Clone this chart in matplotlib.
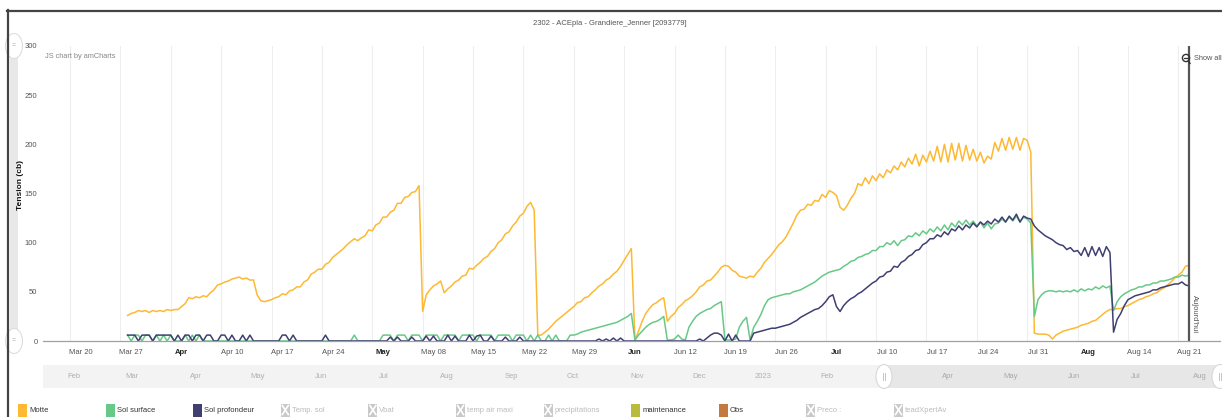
import matplotlib
matplotlib.use("Agg")
import pandas as pd
import matplotlib.pyplot as plt
from matplotlib.patches import Rectangle, Ellipse, Circle
from matplotlib.transforms import ScaledTranslation

plt.rcParams['font.family'] = ['Liberation Sans Narrow', 'Liberation Sans', 'DejaVu Sans']

title = "2302 - ACEpla - Grandiere_Jenner [2093779]"
start = "2023-03-28 00:00"          # first reading, then one every 12 h
today = pd.Timestamp("2023-08-22 12:00")

# Motte (cb), 12-hourly, one row = 7 days
motte = [
    26, 28, 29, 31, 30, 31, 29, 31, 30, 31, 30, 32, 31, 32,
    32, 35, 38, 44, 43, 45, 44, 46, 45, 49, 52, 57, 58, 60,
    61, 63, 64, 65, 63, 64, 62, 62, 47, 41, 40, 41, 42, 44,
    45, 48, 47, 51, 52, 55, 55, 60, 62, 68, 70, 73, 73, 78,
    80, 85, 88, 91, 94, 98, 101, 104, 102, 105, 107, 113, 112, 118,
    120, 126, 126, 131, 133, 140, 140, 146, 147, 151, 152, 158, 30, 47,
    52, 56, 58, 61, 49, 53, 56, 60, 62, 66, 67, 74, 73, 77,
    80, 84, 86, 91, 94, 100, 103, 109, 111, 117, 121, 127, 130, 137,
    141, 133, 6, 6, 9, 12, 16, 20, 23, 26, 29, 32, 35, 39,
    40, 44, 45, 49, 52, 56, 58, 62, 64, 68, 71, 76, 82, 88,
    94, 1, 10, 20, 28, 33, 37, 39, 42, 44, 20, 25, 28, 34,
    37, 41, 43, 46, 50, 55, 57, 61, 62, 66, 70, 75, 77, 76,
    72, 70, 66, 65, 64, 66, 65, 70, 74, 80, 84, 88, 93, 98,
    101, 106, 113, 120, 128, 133, 134, 139, 138, 143, 142, 149, 146, 153,
    151, 148, 136, 133, 138, 145, 150, 160, 158, 166, 160, 168, 163, 170,
    166, 174, 171, 178, 174, 182, 177, 186, 180, 190, 178, 189, 182, 193,
    183, 198, 182, 200, 182, 201, 184, 201, 183, 199, 184, 195, 183, 192,
    181, 188, 185, 202, 193, 206, 194, 207, 195, 207, 194, 206, 204, 192,
    8, 7, 7, 7, 6, 2, 6, 8, 10, 11, 12, 13, 14, 16,
    17, 18, 20, 21, 24, 27, 30, 32, 32, 33, 33, 35, 36, 38,
    40, 42, 43, 45, 46, 48, 49, 52, 54, 57, 60, 64, 67, 70,
    76, 77,
]

sol_surface = [
    6, 0, 6, 6, 0, 6, 6, 0, 6, 0, 6, 0, 6, 0,
    0, 0, 6, 0, 6, 0, 6, 0, 0, 0, 0, 0, 0, 0,
    0, 0, 0, 0, 0, 0, 0, 0, 0, 0, 0, 0, 0, 0,
    0, 0, 0, 0, 0, 0, 0, 0, 0, 0, 0, 0, 0, 0,
    0, 0, 0, 0, 0, 0, 0, 6, 0, 0, 0, 0, 0, 0,
    0, 6, 6, 6, 0, 6, 6, 6, 0, 6, 6, 6, 0, 6,
    6, 6, 6, 0, 6, 6, 6, 6, 0, 6, 6, 6, 6, 0,
    6, 6, 6, 6, 0, 6, 6, 6, 6, 0, 6, 6, 6, 0,
    6, 0, 6, 0, 0, 6, 0, 6, 0, 0, 0, 6, 6, 7,
    9, 10, 11, 12, 13, 14, 15, 16, 17, 18, 19, 21, 23, 25,
    28, 1, 6, 10, 14, 17, 19, 20, 22, 25, 1, 1, 2, 6,
    2, 1, 14, 20, 25, 28, 30, 32, 33, 36, 38, 40, 1, 1,
    1, 2, 14, 20, 24, 1, 14, 20, 27, 36, 42, 44, 45, 46,
    47, 48, 48, 50, 51, 52, 54, 56, 58, 60, 63, 66, 68, 70,
    71, 72, 73, 76, 78, 81, 82, 85, 86, 88, 89, 92, 92, 96,
    96, 100, 98, 102, 97, 102, 103, 107, 106, 110, 107, 112, 109, 114,
    111, 116, 112, 118, 113, 120, 116, 122, 118, 123, 118, 122, 117, 121,
    115, 120, 114, 119, 120, 124, 121, 126, 122, 127, 121, 126, 124, 120,
    25, 42, 47, 50, 51, 51, 50, 51, 50, 51, 50, 52, 50, 53,
    51, 53, 52, 55, 53, 56, 54, 56, 31, 40, 45, 48, 50, 52,
    53, 55, 55, 57, 57, 59, 59, 61, 61, 62, 63, 65, 65, 67,
    66, 67,
]

sol_profondeur = [
    6, 6, 6, 0, 6, 6, 6, 0, 6, 6, 6, 6, 6, 0,
    6, 0, 6, 6, 0, 6, 6, 0, 6, 6, 0, 0, 6, 6,
    0, 6, 0, 0, 6, 0, 6, 0, 0, 0, 0, 0, 0, 0,
    0, 6, 6, 0, 6, 0, 0, 0, 0, 0, 0, 0, 0, 6,
    0, 0, 0, 0, 0, 0, 0, 0, 0, 0, 0, 0, 0, 0,
    0, 0, 0, 4, 0, 4, 0, 0, 0, 4, 0, 0, 0, 5,
    0, 5, 0, 0, 0, 6, 0, 5, 0, 0, 0, 6, 0, 5,
    6, 0, 0, 5, 0, 0, 0, 4, 0, 0, 0, 4, 0, 0,
    0, 0, 0, 0, 0, 0, 0, 0, 0, 0, 0, 0, 0, 0,
    0, 0, 0, 0, 0, 2, 0, 2, 0, 3, 0, 3, 0, 0,
    0, 0, 0, 0, 0, 0, 0, 0, 0, 0, 0, 0, 0, 0,
    0, 0, 0, 0, 0, 2, 0, 3, 6, 8, 8, 6, 0, 7,
    0, 6, 0, 0, 0, 0, 8, 9, 10, 11, 12, 13, 13, 14,
    15, 16, 17, 19, 21, 24, 26, 28, 30, 32, 33, 36, 40, 45,
    47, 35, 30, 36, 40, 43, 45, 48, 50, 53, 56, 59, 61, 65,
    66, 70, 71, 76, 75, 80, 82, 86, 88, 92, 93, 98, 100, 104,
    104, 108, 106, 111, 108, 114, 112, 117, 113, 118, 115, 120, 116, 121,
    118, 122, 119, 124, 121, 126, 121, 127, 123, 129, 121, 127, 125, 124,
    117, 113, 110, 107, 105, 103, 100, 98, 97, 93, 95, 91, 92, 87,
    95, 86, 96, 87, 95, 86, 96, 90, 9, 22, 28, 36, 42, 44,
    46, 47, 48, 49, 50, 52, 52, 54, 55, 56, 57, 58, 58, 60,
    57, 56,
]

series = [("Motte", motte, "#FDB933"),
          ("Sol surface", sol_surface, "#67C987"),
          ("Sol profondeur", sol_profondeur, "#3F3F72")]

legend_names = ["Motte", "Sol surface", "Sol profondeur", "Temp. sol", "Vbat",
                "temp air maxi", "precipitations", "maintenance", "Obs",
                "Preco :", "teadXpertAv"]
legend_colors = ["#FDB933", "#67C987", "#3F3F72", None, None, None, None,
                 "#B8BB3B", "#C27A3F", None, None]

view_start = pd.Timestamp("2023-03-16 06:00")
view_end = pd.Timestamp("2023-08-26 19:00")
scroll_start = pd.Timestamp("2022-01-16 23:00")
scroll_end = pd.Timestamp("2023-08-10 17:00")
scroll_sel = pd.Timestamp("2023-03-01")

W, H = 1222, 417
fig = plt.figure(figsize=(W / 100, H / 100), dpi=100)


def box(x0, y0, x1, y1):
    return [x0 / W, 1 - y1 / H, (x1 - x0) / W, (y1 - y0) / H]


# main chart
ax = fig.add_axes(box(43, 46, 1220, 341))
for name, vals, col in series:
    t = pd.date_range(start, periods=len(vals), freq="12h")
    ax.plot(t, vals, color=col, lw=1.1, solid_joinstyle="round")

ax.set_xlim(view_start, view_end)
ax.set_ylim(0, 300)
ax.set_yticks(range(0, 301, 50))
for s in ["top", "right", "left"]:
    ax.spines[s].set_visible(False)
ax.spines["bottom"].set_color("#a0a0a0")
ax.spines["bottom"].set_linewidth(0.9)
ax.tick_params(axis="y", length=0, pad=4, labelsize=5.5, labelcolor="#555555")

mondays = pd.date_range("2023-03-20", "2023-08-21", freq="7D")
ax.set_xticks(mondays)
ax.set_xticklabels([d.strftime("%b") if d.day <= 7 else d.strftime("%b %d") for d in mondays])
ax.tick_params(axis="x", length=0, pad=6, labelsize=5.5, labelcolor="#555555")
shift = ScaledTranslation(11 / 100, 0, fig.dpi_scale_trans)
for d, lab in zip(mondays, ax.get_xticklabels()):
    lab.set_transform(lab.get_transform() + shift)
    if d.day <= 7:
        lab.set_fontweight("bold")
        lab.set_color("#222222")
ax.grid(axis="x", color="#eeeeee", lw=0.8)
ax.set_axisbelow(True)

ax.axvline(today, color="#555555", lw=1.6)
ax.text(today, 8, "Aujourd'hui", rotation=-90, ha="left", va="bottom",
        fontsize=5.5, color="#555555",
        transform=ax.transData + ScaledTranslation(2 / 100, 0, fig.dpi_scale_trans))

# bottom scrollbar
sc = fig.add_axes(box(43, 365, 1220, 388))
sc.set_xlim(scroll_start, scroll_end)
sc.set_ylim(0, 1)
sc.axis("off")
sc.axvspan(scroll_start, scroll_end, color="#f3f3f3", lw=0)
sc.axvspan(scroll_sel, scroll_end, color="#e7e7e7", lw=0)
months = pd.date_range("2022-02-01", "2023-08-01", freq="MS")
for m in months:
    if abs((m - scroll_sel).days) < 8:
        continue  # hidden under the scrollbar grip
    lab = "2023" if m.month == 1 else m.strftime("%b")
    sc.text(m, 0.5, lab, ha="center", va="center", fontsize=5.5,
            color="#b0b0b0" if m < scroll_sel else "#a8a8a8")

# overlay in pixel units for decorations
ov = fig.add_axes([0, 0, 1, 1])
ov.set_xlim(0, W)
ov.set_ylim(H, 0)
ov.axis("off")
ov.patch.set_alpha(0)

ov.plot([7, W], [10.5, 10.5], color="#444444", lw=1.6)
ov.plot([7.5, 7.5], [10, H], color="#444444", lw=1.6)

ov.text(610, 23, title, ha="center", va="center", fontsize=5.5, color="#555555")
ov.text(45, 56, "JS chart by amCharts", ha="left", va="center", fontsize=5.3, color="#888888")
ov.text(20, 185, "Tension (cb)", rotation=90, ha="center", va="center",
        fontsize=6, fontweight="bold", color="#111111")

# left scrollbar
ov.add_patch(Rectangle((10, 46), 8, 295, fc="#e8e8e8", ec="none"))
for yy in (46, 341):
    ov.add_patch(Ellipse((14, yy), 17, 25, fc="white", ec="#dddddd", lw=0.8))
    ov.text(14, yy, "=", ha="center", va="center", fontsize=5, color="#aaaaaa")

# scrollbar grips
for xx in (884, 1220):
    ov.add_patch(Ellipse((xx, 376.5), 16, 24, fc="white", ec="#d8d8d8", lw=0.8))
    ov.plot([xx - 1, xx - 1], [373, 380], color="#c4c4c4", lw=0.7)
    ov.plot([xx + 1, xx + 1], [373, 380], color="#c4c4c4", lw=0.7)

# show all
ov.add_patch(Circle((1186, 58), 3.6, fc="none", ec="#333333", lw=1))
ov.plot([1184, 1188], [58, 58], color="#333333", lw=0.9)
ov.plot([1188.5, 1190], [61, 63.5], color="#333333", lw=1)
ov.text(1194, 58, "Show all", ha="left", va="center", fontsize=5.3, color="#555555")

# legend
for i, (name, col) in enumerate(zip(legend_names, legend_colors)):
    x0 = 18 + i * 87.6
    if col is None:
        ov.add_patch(Rectangle((x0, 404), 9, 13, fc="#c9c9c9", ec="none"))
        ov.plot([x0 + 1.5, x0 + 7.5], [405.5, 414.5], color="white", lw=1.2)
        ov.plot([x0 + 7.5, x0 + 1.5], [405.5, 414.5], color="white", lw=1.2)
        tc = "#bbbbbb"
    else:
        ov.add_patch(Rectangle((x0, 404), 9, 13, fc=col, ec="none"))
        tc = "#333333"
    ov.text(x0 + 11, 411, name, ha="left", va="center", fontsize=5.5, color=tc)

fig.savefig("out.png", dpi=100)
